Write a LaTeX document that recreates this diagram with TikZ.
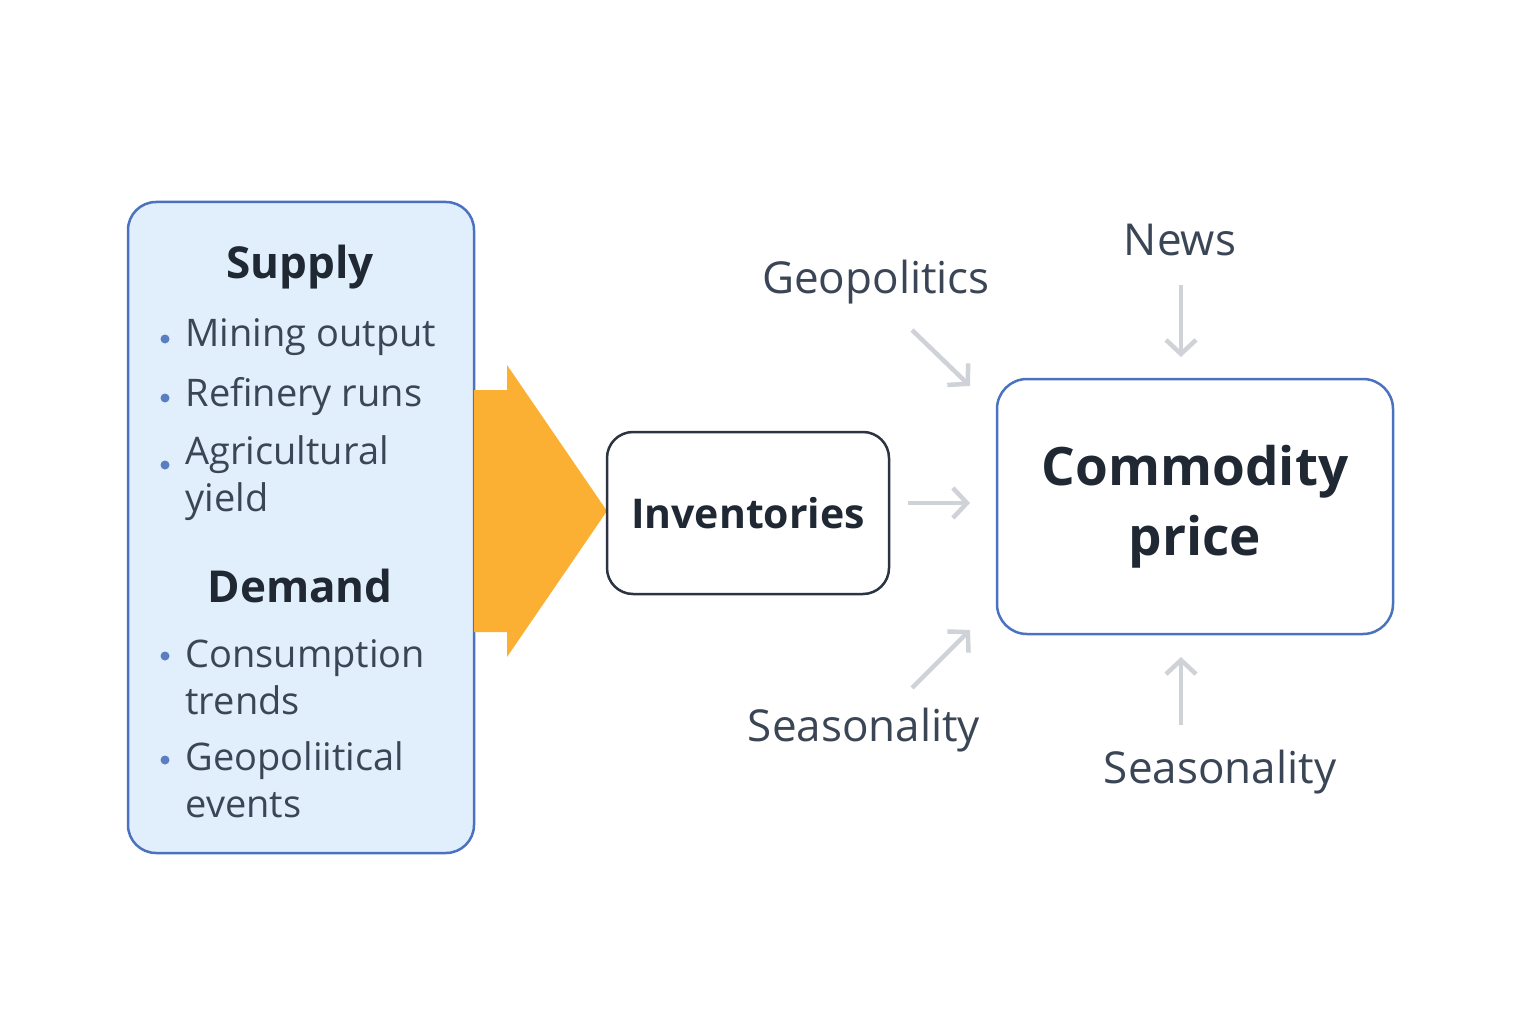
\documentclass[tikz,border=0pt]{standalone}
\usepackage{fontspec}
\setmainfont{Open Sans}
\usetikzlibrary{arrows.meta}
\definecolor{bluefill}{HTML}{E1EEFC}
\definecolor{blueline}{HTML}{4A72C0}
\definecolor{darkline}{HTML}{2B3440}
\definecolor{orange}{HTML}{FBB034}
\definecolor{txt}{HTML}{3A4555}
\definecolor{head}{HTML}{1F2833}
\definecolor{garrow}{HTML}{CFD3D8}
\definecolor{dot}{HTML}{5B7EC0}
\begin{document}
\begin{tikzpicture}[x=1pt,y=-1pt,
  item/.style={anchor=west,text=txt,font=\fontsize{38}{47}\selectfont,align=left},
  bul/.style={circle,fill=dot,inner sep=0pt,minimum size=9pt},
  lab/.style={text=txt,font=\fontsize{44}{50}\selectfont},
  ga/.style={draw=garrow,line width=4.5pt,-{Straight Barb[length=14pt,width=30pt,line width=4.5pt]}}]
\useasboundingbox[fill=white] (0,0) rectangle (1536,1024);
\node[draw=blueline,line width=2.5pt,fill=bluefill,rounded corners=28pt,minimum width=346pt,minimum height=651pt,inner sep=0pt] (left) at (301,527.5) {};
\node[text=head,font=\bfseries\fontsize{44}{50}\selectfont] (supply) at (300,267) {Supply};
\node[bul] (b1) at (165,339) {}; \node[item] (t1) at (182,337) {Mining output};
\node[bul] (b2) at (165,398) {}; \node[item] (t2) at (182,397) {Refinery runs};
\node[bul] (b3) at (165,465) {}; \node[item] (t3) at (182,478) {Agricultural\\yield};
\node[text=head,font=\bfseries\fontsize{44}{50}\selectfont] (demand) at (300,586) {Demand};
\node[bul] (b4) at (165,656) {}; \node[item] (t4) at (182,677) {Consumption\\trends};
\node[bul] (b5) at (165,760) {}; \node[item] (t5) at (182,780) {Geopoliitical\\events};
\fill[orange] (474,390) -- (507,390) -- (507,365) -- (607,511) -- (507,657) -- (507,632) -- (474,632) -- cycle;
\node[draw=darkline,line width=2.5pt,fill=white,rounded corners=26pt,minimum width=282pt,minimum height=162pt,text=head,font=\bfseries\fontsize{41}{48}\selectfont] (inv) at (748,513) {Inventories};
\node[draw=blueline,line width=2.5pt,fill=white,rounded corners=30pt,minimum width=396pt,minimum height=255pt,text=head,font=\bfseries\fontsize{53}{70}\selectfont,align=center] (price) at (1195,506.5) {Commodity\\price};
\node[lab] (geo) at (876,282) {Geopolitics};
\node[lab] (news) at (1180,240) {News};
\node[lab] (s1) at (864,730) {Seasonality};
\node[lab] (s2) at (1220,772) {Seasonality};
\coordinate (a1s) at (912,330); \coordinate (a1e) at (970,386);
\coordinate (a2s) at (1181,285); \coordinate (a2e) at (1181,357);
\coordinate (a3s) at (908,503); \coordinate (a3e) at (970,503);
\coordinate (a4s) at (912,688); \coordinate (a4e) at (970,630);
\coordinate (a5s) at (1181,725); \coordinate (a5e) at (1181,657);
\draw[ga] (a1s) -- (a1e);
\draw[ga] (a2s) -- (a2e);
\draw[ga] (a3s) -- (a3e);
\draw[ga] (a4s) -- (a4e);
\draw[ga] (a5s) -- (a5e);
\end{tikzpicture}
\end{document}
